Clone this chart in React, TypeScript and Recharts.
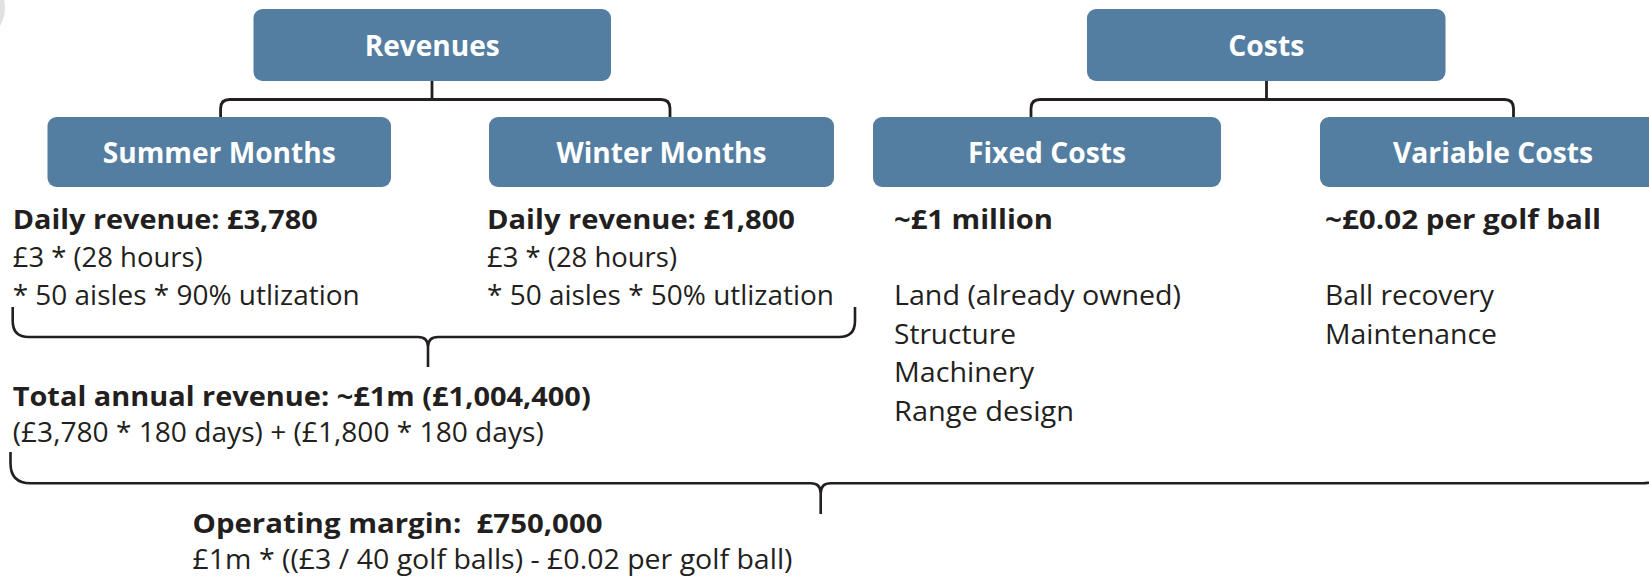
import React from 'react';
import { ScatterChart, Scatter, XAxis, YAxis, ReferenceArea, ReferenceDot } from 'recharts';

// ---------- data (text content) ----------
const headBoxes = ['Revenues', 'Costs'];
const subBoxes = ['Summer Months', 'Winter Months', 'Fixed Costs', 'Variable Costs'];
const summerLines = ['Daily revenue: £3,780', '£3 * (28 hours)', '* 50 aisles * 90% utlization'];
const winterLines = ['Daily revenue: £1,800', '£3 * (28 hours)', '* 50 aisles * 50% utlization'];
const fixedLines = ['~£1 million', 'Land (already owned)', 'Structure', 'Machinery', 'Range design'];
const variableLines = ['~£0.02 per golf ball', 'Ball recovery', 'Maintenance'];
const totalLines = ['Total annual revenue: ~£1m (£1,004,400)', '(£3,780 * 180 days) + (£1,800 * 180 days)'];
const marginLines = ['Operating margin:  £750,000', '£1m * ((£3 / 40 golf balls) - £0.02 per golf ball)'];

// ---------- layout ----------
const W = 1649;
const H = 577;
const INK = '#231f20';
const BOX = '#537ea1';
const FONT = '"Open Sans", "Noto Sans", sans-serif';

const HEAD_LAYOUT = [
  { x1: 253.5, x2: 611, y1: 9, y2: 81, tw: 135 },
  { x1: 1087, x2: 1445.5, y1: 9, y2: 81, tw: 76 },
];
const SUB_LAYOUT = [
  { x1: 47.5, x2: 391, y1: 117, y2: 187, tw: 233 },
  { x1: 489, x2: 834, y1: 117, y2: 187, tw: 210 },
  { x1: 873, x2: 1221, y1: 117, y2: 187, tw: 158 },
  { x1: 1320, x2: 1666, y1: 117, y2: 187, tw: 200 },
];
const CONNECTORS = [
  { px: 432, left: 220.6, right: 670, top: 81, mid: 99.5, bottom: 117 },
  { px: 1266.5, left: 1031, right: 1513.5, top: 81, mid: 99.5, bottom: 117 },
];
const BRACES = [
  { left: 12.7, right: 855, top: 307, line: 337, bottom: 367, cx: 428, r: 16 },
  { left: 10.5, right: 1662, top: 452, line: 483.3, bottom: 514, cx: 820.7, r: 20 },
];

type Block = { lines: string[]; x: number; ys: number[]; ws: number[]; boldFirst: boolean };
const BLOCKS: Block[] = [
  { lines: summerLines, x: 12.7, ys: [229.3, 267.3, 305], ws: [305, 190, 347], boldFirst: true },
  { lines: winterLines, x: 487, ys: [229.3, 267.3, 305], ws: [308, 190, 347], boldFirst: true },
  { lines: fixedLines, x: 894, ys: [229.3, 305, 343.5, 382, 420.5], ws: [159, 287, 122, 140, 180], boldFirst: true },
  { lines: variableLines, x: 1325, ys: [229.3, 305, 343.5], ws: [276, 169, 172], boldFirst: true },
  { lines: totalLines, x: 12.7, ys: [406, 442], ws: [578, 531], boldFirst: true },
  { lines: marginLines, x: 192.5, ys: [532.5, 569], ws: [410, 600], boldFirst: true },
];

const textPoints = BLOCKS.flatMap((b) =>
  b.lines.map((t, i) => ({ x: b.x, y: b.ys[i], text: t, w: b.ws[i], bold: b.boldFirst && i === 0 }))
);

// ---------- shapes ----------
const norm = (p: any) => {
  const x = Math.min(p.x, p.x + p.width);
  const y = Math.min(p.y, p.y + p.height);
  return { x, y, w: Math.abs(p.width), h: Math.abs(p.height) };
};

const BoxShape = (p: any, label: string, tw: number, size: number) => {
  const { x, y, w, h } = norm(p);
  return (
    <g>
      <rect x={x} y={y} width={w} height={h} rx={9} ry={9} fill={BOX} />
      <text
        x={x + w / 2}
        y={y + h / 2 + size * 0.37}
        textAnchor="middle"
        fontFamily={FONT}
        fontWeight={700}
        fontSize={size}
        fill="#ffffff"
        textLength={tw}
        lengthAdjust="spacingAndGlyphs"
      >
        {label}
      </text>
    </g>
  );
};

const ConnectorShape = (p: any, c: (typeof CONNECTORS)[number]) => {
  const { x, y, w, h } = norm(p);
  const fx = (v: number) => x + ((v - c.left) / (c.right - c.left)) * w;
  const fy = (v: number) => y + ((v - c.top) / (c.bottom - c.top)) * h;
  const L = x;
  const R = x + w;
  const M = fy(c.mid);
  const B = y + h;
  const r = 9;
  const d = `M ${fx(c.px)} ${y} V ${M} M ${L} ${B} V ${M + r} Q ${L} ${M} ${L + r} ${M} H ${R - r} Q ${R} ${M} ${R} ${M + r} V ${B}`;
  return <path d={d} fill="none" stroke={INK} strokeWidth={2.8} />;
};

const BraceShape = (p: any, b: (typeof BRACES)[number]) => {
  const { x, y, w, h } = norm(p);
  const fx = (v: number) => x + ((v - b.left) / (b.right - b.left)) * w;
  const fy = (v: number) => y + ((v - b.top) / (b.bottom - b.top)) * h;
  const L = x;
  const R = x + w;
  const T = y;
  const Y = fy(b.line);
  const C = fx(b.cx);
  const B = y + h;
  const r = b.r;
  const j = 10;
  const d =
    `M ${L} ${T} V ${Y - r} Q ${L} ${Y} ${L + r} ${Y} H ${C - j} Q ${C} ${Y} ${C} ${Y + j} V ${B} ` +
    `M ${R} ${T} V ${Y - r} Q ${R} ${Y} ${R - r} ${Y} H ${C + j} Q ${C} ${Y} ${C} ${Y + j}`;
  return <path d={d} fill="none" stroke={INK} strokeWidth={2.6} />;
};

const TextMark = (p: any) => {
  const d = p.payload;
  return (
    <text
      x={p.cx}
      y={p.cy}
      fontFamily={FONT}
      fontSize={d.bold ? 26 : 27.5}
      fontWeight={d.bold ? 700 : 400}
      fill={INK}
      textLength={d.w}
      lengthAdjust="spacingAndGlyphs"
      style={{ whiteSpace: 'pre' }}
    >
      {d.text}
    </text>
  );
};

export default function App() {
  return (
    <div style={{ position: 'absolute', left: 0, top: 0, width: W, height: H, overflow: 'hidden', background: '#fff' }}>
      <ScatterChart width={W} height={H} margin={{ top: 0, right: 0, bottom: 0, left: 0 }}>
        <XAxis type="number" dataKey="x" domain={[0, W]} hide allowDataOverflow />
        <YAxis type="number" dataKey="y" domain={[0, H]} reversed hide allowDataOverflow />
        <ReferenceDot x={-30} y={8} r={35} fill="#e2e2e2" stroke="none" ifOverflow="visible" />
        {CONNECTORS.map((c, i) => (
          <ReferenceArea
            key={`c${i}`}
            x1={c.left}
            x2={c.right}
            y1={c.top}
            y2={c.bottom}
            ifOverflow="visible"
            shape={(p: any) => ConnectorShape(p, c)}
          />
        ))}
        {headBoxes.map((label, i) => {
          const l = HEAD_LAYOUT[i];
          return (
            <ReferenceArea
              key={`h${i}`}
              x1={l.x1}
              x2={l.x2}
              y1={l.y1}
              y2={l.y2}
              ifOverflow="visible"
              shape={(p: any) => BoxShape(p, label, l.tw, 29)}
            />
          );
        })}
        {subBoxes.map((label, i) => {
          const l = SUB_LAYOUT[i];
          return (
            <ReferenceArea
              key={`s${i}`}
              x1={l.x1}
              x2={l.x2}
              y1={l.y1}
              y2={l.y2}
              ifOverflow="visible"
              shape={(p: any) => BoxShape(p, label, l.tw, 29)}
            />
          );
        })}
        {BRACES.map((b, i) => (
          <ReferenceArea
            key={`b${i}`}
            x1={b.left}
            x2={b.right}
            y1={b.top}
            y2={b.bottom}
            ifOverflow="visible"
            shape={(p: any) => BraceShape(p, b)}
          />
        ))}
        <Scatter data={textPoints} shape={TextMark} isAnimationActive={false} />
      </ScatterChart>
    </div>
  );
}
